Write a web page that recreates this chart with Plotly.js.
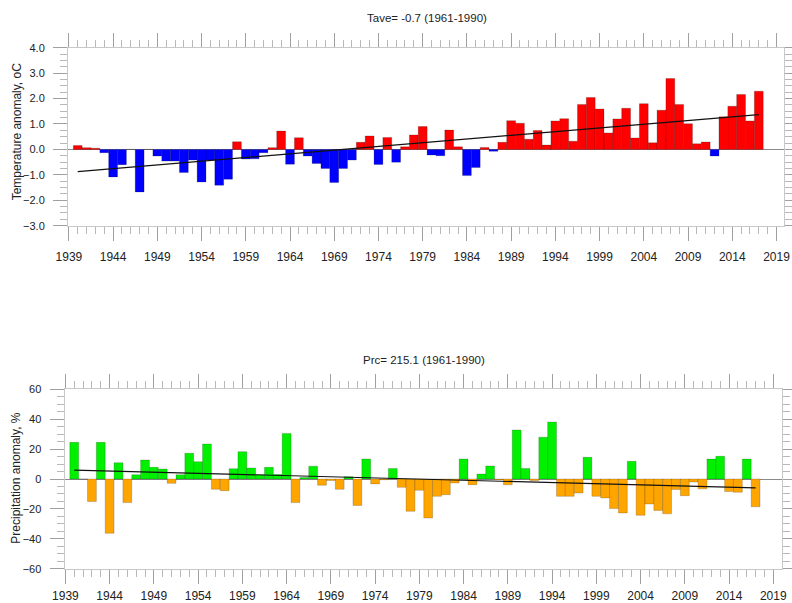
<!DOCTYPE html>
<html><head><meta charset="utf-8">
<script src="https://cdn.plot.ly/plotly-3.0.1.min.js"></script>
<style>html,body{margin:0;padding:0;background:#fff}#chart{width:792px;height:603px}</style>
</head><body><div id="chart"></div>
<script>
const years = [1940,1941,1942,1943,1944,1945,1946,1947,1948,1949,
  1950,1951,1952,1953,1954,1955,1956,1957,1958,1959,
  1960,1961,1962,1963,1964,1965,1966,1967,1968,1969,
  1970,1971,1972,1973,1974,1975,1976,1977,1978,1979,
  1980,1981,1982,1983,1984,1985,1986,1987,1988,1989,
  1990,1991,1992,1993,1994,1995,1996,1997,1998,1999,
  2000,2001,2002,2003,2004,2005,2006,2007,2008,2009,
  2010,2011,2012,2013,2014,2015,2016,2017];

const tempAnomaly = [0.15,0.07,0.05,-0.13,-1.08,-0.60,0.00,-1.67,0.00,-0.26,
  -0.46,-0.46,-0.91,-0.42,-1.28,-0.42,-1.41,-1.17,0.30,-0.38,
  -0.37,-0.13,0.07,0.72,-0.58,0.46,-0.26,-0.55,-0.75,-1.30,
  -0.75,-0.42,0.28,0.53,-0.59,0.47,-0.50,0.10,0.57,0.90,
  -0.22,-0.25,0.76,0.10,-1.03,-0.71,0.08,-0.07,0.28,1.13,
  1.03,0.40,0.74,0.17,1.12,1.21,0.32,1.77,2.04,1.59,
  0.65,1.20,1.62,0.45,1.80,0.26,1.54,2.79,1.77,1.01,
  0.22,0.29,-0.26,1.28,1.70,2.16,1.12,2.29];

const precAnomaly = [24.5,0,-15.0,24.5,-36.3,10.9,-15.8,2.9,12.7,7.8,
  6.7,-2.9,2.9,17.2,11.6,23.4,-6.9,-7.8,6.9,18.3,
  7.4,2.9,7.8,3.0,30.5,-15.8,1.0,8.6,-4.2,-1.0,
  -6.9,1.5,-17.7,13.4,-3.3,-0.5,7.1,-5.6,-21.6,-7.6,
  -26.1,-11.6,-10.5,-2.6,13.4,-3.8,3.3,8.7,-0.5,-3.9,
  32.8,7.1,-1.0,28.0,38.1,-11.6,-11.6,-9.4,14.5,-11.6,
  -12.7,-19.8,-22.7,11.8,-24.3,-16.7,-21.0,-23.3,-7.0,-11.2,
  -2.0,-6.6,13.3,15.2,-8.4,-8.9,13.3,-18.6];

const trendYears = [1940, 2017];
const tempTrend = [-0.87, 1.37];
const precTrend = [6.0, -6.0];

const tempTitle = 'Tave= -0.7 (1961-1990)';
const precTitle = 'Prc= 215.1 (1961-1990)';
const tempYLabel = 'Temperature anomaly, oC';
const precYLabel = 'Precipitation anomaly, %';

const FONT = 'Liberation Sans, Arial, Helvetica, sans-serif';
const W = 792, H = 603;
const px = v => v / W, py = v => 1 - v / H;

const tempColors = tempAnomaly.map(v => v >= 0 ? '#ff0000' : '#0000ff');
const precColors = precAnomaly.map(v => v >= 0 ? '#00f000' : '#ffa500');

function xAxis(domain, anchor, range, standoff) {
  return {
    domain: domain, anchor: anchor, range: range,
    tick0: 1939, dtick: 5, ticks: 'outside', ticklen: 14, tickwidth: 1, tickcolor: '#a0a0a0',
    mirror: 'allticks', showline: true, linecolor: '#c8c8c8', linewidth: 1,
    showgrid: false, zeroline: false, fixedrange: true,
    tickfont: {family: FONT, size: 12, color: '#222'}, ticklabelstandoff: standoff,
    minor: {dtick: 1, tick0: 1939, ticks: 'outside', ticklen: 7, tickwidth: 1, tickcolor: '#b8b8b8', showgrid: false}
  };
}
function yAxis(domain, anchor, range, dtick, minorDtick, fmt) {
  return {
    domain: domain, anchor: anchor, range: range,
    tick0: 0, dtick: dtick, tickformat: fmt, ticks: 'outside', ticklen: 14, tickwidth: 1, tickcolor: '#a0a0a0',
    mirror: 'allticks', showline: true, linecolor: '#c8c8c8', linewidth: 1,
    showgrid: false, zeroline: true, zerolinecolor: '#8a8a8a', zerolinewidth: 1, fixedrange: true,
    tickfont: {family: FONT, size: 11, color: '#222'}, ticklabelstandoff: 6,
    minor: {dtick: minorDtick, tick0: 0, ticks: 'outside', ticklen: 7, tickwidth: 1, tickcolor: '#b8b8b8', showgrid: false}
  };
}

const traces = [
  {type: 'bar', x: years, y: tempAnomaly, width: 1, xaxis: 'x', yaxis: 'y',
   marker: {color: tempColors, line: {color: 'rgba(0,0,0,0.35)', width: 0.6}}, hoverinfo: 'skip'},
  {type: 'scatter', mode: 'lines', x: trendYears, y: tempTrend, xaxis: 'x', yaxis: 'y',
   line: {color: '#111', width: 1.2}, hoverinfo: 'skip'},
  {type: 'bar', x: years, y: precAnomaly, width: 1, xaxis: 'x2', yaxis: 'y2',
   marker: {color: precColors, line: {color: 'rgba(0,0,0,0.3)', width: 0.6}}, hoverinfo: 'skip'},
  {type: 'scatter', mode: 'lines', x: trendYears, y: precTrend, xaxis: 'x2', yaxis: 'y2',
   line: {color: '#111', width: 1.2}, hoverinfo: 'skip'}
];

const layout = {
  width: W, height: H, margin: {l: 0, r: 0, t: 0, b: 0},
  paper_bgcolor: '#fff', plot_bgcolor: '#fff', showlegend: false, hovermode: false,
  font: {family: FONT, color: '#222'},
  xaxis: xAxis([px(68), px(784)], 'y', [1938.9, 2019.85], 6),
  yaxis: yAxis([py(225.7), py(47.7)], 'x', [-3, 4], 1, 0.25, '.1f'),
  xaxis2: xAxis([px(64.5), px(781.7)], 'y2', [1938.9, 2019.95], 2),
  yaxis2: yAxis([py(568.7), py(389.3)], 'x2', [-60, 60], 20, 5, 'd'),
  annotations: [
    {text: tempTitle, xref: 'paper', yref: 'paper', x: px(426.7), y: py(18.3), xanchor: 'center', yanchor: 'middle',
     showarrow: false, font: {family: FONT, size: 11.5, color: '#222'}},
    {text: precTitle, xref: 'paper', yref: 'paper', x: px(423.8), y: py(360), xanchor: 'center', yanchor: 'middle',
     showarrow: false, font: {family: FONT, size: 11.5, color: '#222'}},
    {text: tempYLabel, xref: 'paper', yref: 'paper', x: px(17.3), y: py(131), xanchor: 'center', yanchor: 'middle',
     textangle: -90, showarrow: false, font: {family: FONT, size: 12, color: '#222'}},
    {text: precYLabel, xref: 'paper', yref: 'paper', x: px(15.7), y: py(478), xanchor: 'center', yanchor: 'middle',
     textangle: -90, showarrow: false, font: {family: FONT, size: 12, color: '#222'}}
  ]
};

Plotly.newPlot('chart', traces, layout, {staticPlot: true, displayModeBar: false});
</script>
</body></html>
